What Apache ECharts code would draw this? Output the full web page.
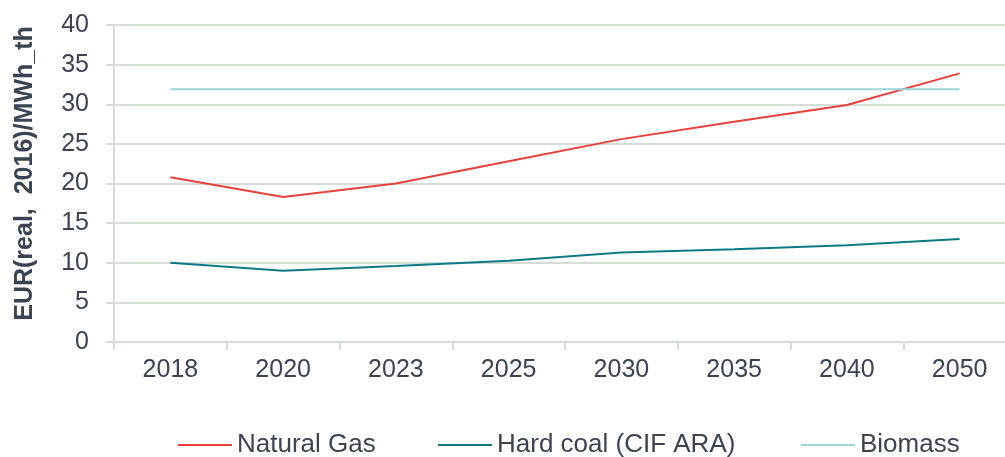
<!DOCTYPE html>
<html>
<head>
<meta charset="utf-8">
<script src="https://cdn.jsdelivr.net/npm/echarts@6/dist/echarts.min.js"></script>
<style>
  html, body { margin: 0; padding: 0; background: #fff; }
</style>
</head>
<body>
<div id="main" style="width: 1005px; height: 457px"></div>
<script>
var years = ['2018', '2020', '2023', '2025', '2030', '2035', '2040', '2050'];
var naturalGas = [20.8, 18.3, 20.0, 22.8, 25.6, 27.8, 29.9, 33.9];
var hardCoal = [10.0, 9.0, 9.6, 10.25, 11.3, 11.7, 12.2, 13.0];
var biomass = [31.9, 31.9, 31.9, 31.9, 31.9, 31.9, 31.9, 31.9];

var textColor = '#3b4450';
var gridColor = '#d6ddd6';

// one legend per item so each sits where it does in the picture
function legendAt(name, left) {
  return {
    show: true,
    top: 432,
    left: left,
    itemWidth: 54,
    itemHeight: 2,
    padding: 0,
    textStyle: { fontSize: 26, color: textColor },
    data: [name]
  };
}

var chartDom = document.getElementById('main');
var myChart = echarts.init(chartDom);
var option = {
  animation: false,
  textStyle: {
    fontFamily: 'Liberation Sans, Arial, sans-serif',
    color: textColor
  },
  grid: {
    left: 114,
    top: 25,
    width: 902,
    height: 317,
    outerBoundsMode: 'none',
    containLabel: false
  },
  legend: [
    legendAt('Natural Gas', 177),
    legendAt('Hard coal (CIF ARA)', 437),
    legendAt('Biomass', 800)
  ],
  xAxis: {
    type: 'category',
    data: years,
    boundaryGap: true,
    axisLine: { lineStyle: { color: gridColor, width: 2 } },
    axisTick: { show: true, length: 8, lineStyle: { color: gridColor, width: 2 } },
    axisLabel: { color: textColor, fontSize: 25, margin: 16 }
  },
  yAxis: {
    type: 'value',
    min: 0,
    max: 40,
    interval: 5,
    name: 'EUR(real,  2016)/MWh_th',
    nameLocation: 'middle',
    nameGap: 76,
    nameTextStyle: { fontSize: 25, fontWeight: 'bold', color: textColor, padding: [0, 0, 0, 20] },
    axisLine: { show: true, lineStyle: { color: gridColor, width: 2 } },
    axisTick: { show: true, length: 8, lineStyle: { color: gridColor, width: 2 } },
    axisLabel: { color: textColor, fontSize: 25, margin: 25 },
    splitLine: { lineStyle: { color: gridColor, width: 2 } }
  },
  series: [
    {
      name: 'Natural Gas',
      type: 'line',
      data: naturalGas,
      symbol: 'none',
      lineStyle: { color: '#e8413c', width: 2 },
      itemStyle: { color: '#e8413c' }
    },
    {
      name: 'Hard coal (CIF ARA)',
      type: 'line',
      data: hardCoal,
      symbol: 'none',
      lineStyle: { color: '#0e7a85', width: 2 },
      itemStyle: { color: '#0e7a85' }
    },
    {
      name: 'Biomass',
      type: 'line',
      data: biomass,
      symbol: 'none',
      lineStyle: { color: '#9dd5d8', width: 2 },
      itemStyle: { color: '#9dd5d8' }
    }
  ]
};

myChart.setOption(option);
window.addEventListener('resize', function () {
  myChart.resize();
});
</script>
</body>
</html>
